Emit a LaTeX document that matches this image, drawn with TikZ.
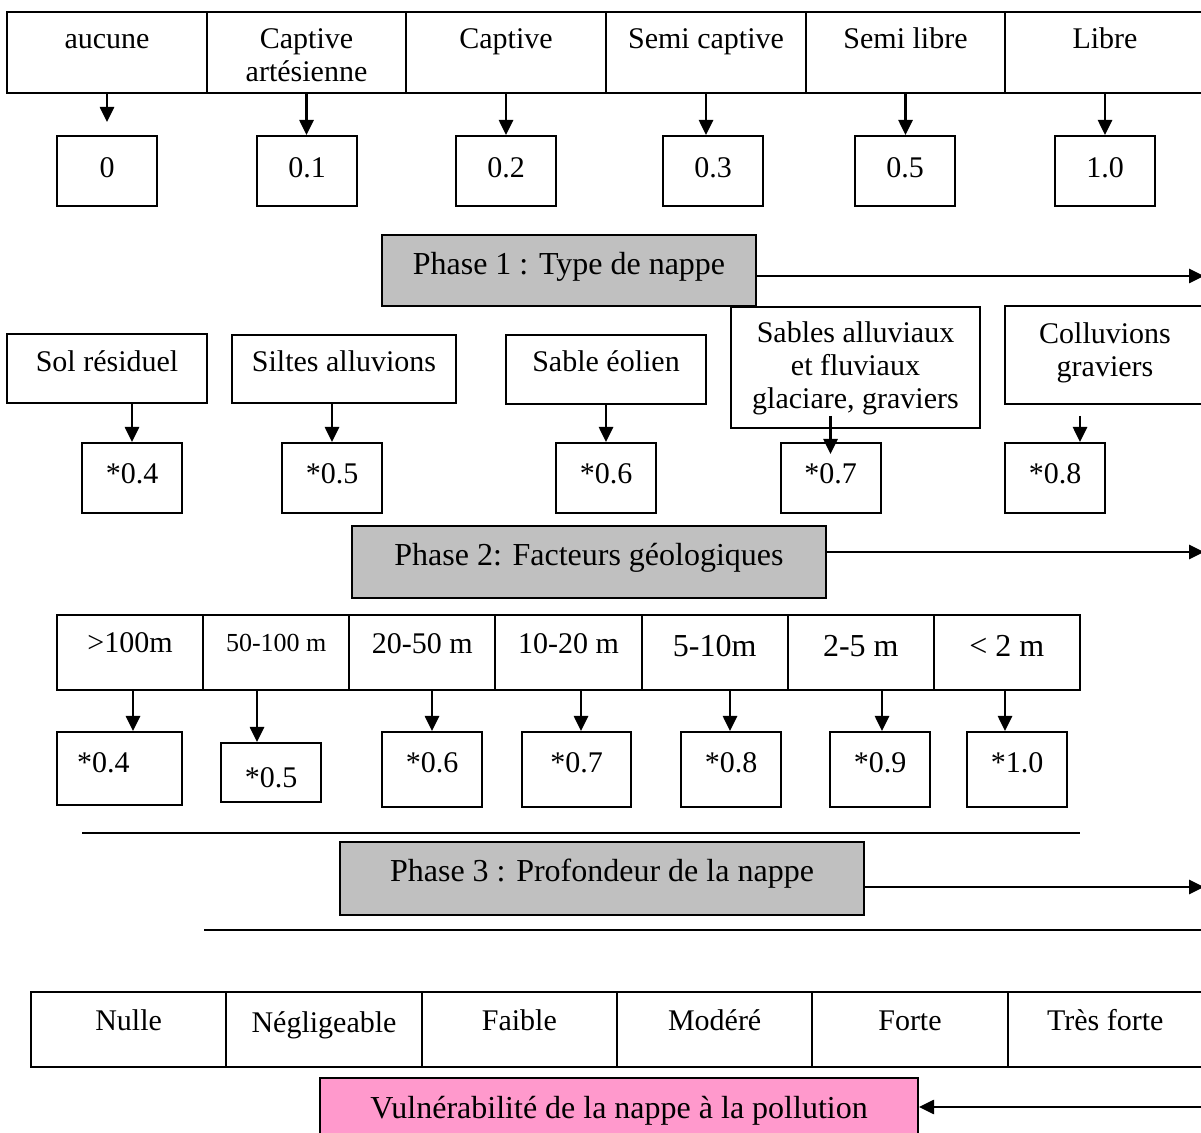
\documentclass[tikz,border=0pt]{standalone}
\usepackage{fontspec}
\setmainfont{Liberation Serif}
\usepackage{tikz}
\usetikzlibrary{arrows.meta,positioning,calc}
\definecolor{phasegray}{HTML}{C0C0C0}
\definecolor{vulnpink}{HTML}{FF99CC}
\tikzset{
  box/.style 2 args={draw, line width=1pt, inner sep=0pt, minimum width=#1, minimum height=#2},
  lift/.style={text height=10pt, text depth=#1},
  arr/.style={-{Triangle[length=7.5pt,width=7pt]}, line width=1.3pt},
  phase/.style={draw, line width=1pt, fill=phasegray, inner sep=0pt, font=\fontsize{16}{18}\selectfont}
}

\begin{document}
\begin{tikzpicture}[x=0.5pt, y=-0.5pt, font=\fontsize{15}{16.5}\selectfont]
\useasboundingbox (0,0) rectangle (1201,1133);

% Phase 1 : type de nappe
\foreach \i/\x/\lbl in {1/107/aucune, 3/506/Captive, 4/706/Semi captive, 5/905.5/Semi libre, 6/1105/Libre}
  \node[box={99.85pt}{40.5pt}, lift=13.5pt] (t\i) at (\x,52.5) {\lbl};
\node[box={99.85pt}{40.5pt}, align=center, text height=29.5pt, text depth=0pt] (t2) at (306.5,52.5) {Captive\\artésienne};
\foreach \i/\x/\val in {1/107/0, 2/307/0.1, 3/506/0.2, 4/713/0.3, 5/905/0.5, 6/1105/1.0}
  \node[box={50pt}{35pt}, lift=3pt] (n\i) at (\x,171) {\val};
\draw[arr, shorten >=6.5pt] (t1.south) -- (t1.south |- n1.north);
\foreach \i in {2,...,6} \draw[arr] (t\i.south) -- (t\i.south |- n\i.north);

\node[phase, minimum width=187pt, minimum height=35.5pt, lift=5.5pt] (p1) at (569,270.5) {Phase 1 : Type de nappe};
\coordinate (e1) at (1204,276);
\draw[arr] (p1.east |- e1) -- (e1);

% Phase 2 : geologie
\node[box={100pt}{34.5pt}, lift=6.5pt] (s1) at (107,368.5) {Sol résiduel};
\node[box={112pt}{34pt}, lift=7pt] (s2) at (344,369) {Siltes alluvions};
\node[box={100pt}{34.5pt}, lift=7.5pt] (s3) at (606,369.5) {Sable éolien};
\node[box={124.5pt}{60.5pt}, align=center, text height=41.5pt, text depth=0pt] (s4) at (855.5,367.5) {Sables alluviaux\\et fluviaux\\glaciare, graviers};
\node[box={100pt}{49pt}, align=center, text height=22pt, text depth=0pt] (s5) at (1105,355) {Colluvions\\graviers};
\foreach \i/\x/\val in {1/132/*0.4, 2/332/*0.5, 3/606/*0.6, 4/830.5/*0.7, 5/1055/*0.8}
  \node[box={50pt}{35pt}, lift=4pt] (m\i) at (\x,478) {\val};
\foreach \i in {1,2,3} \draw[arr] (m\i.north |- s\i.south) -- (m\i.north);
\draw[arr, shorten <=-6.5pt, shorten >=-6pt] (m4.north |- s4.south) -- (m4.north);
\coordinate (a5) at ($(m5.north)+(25,0)$);
\draw[arr, shorten <=5.5pt] (a5 |- s5.south) -- (a5);

\node[phase, minimum width=237pt, minimum height=36pt, lift=6pt] (p2) at (589,562) {Phase 2: Facteurs géologiques};
\coordinate (e2) at (1204,552);
\draw[arr] (p2.east |- e2) -- (e2);

% Phase 3 : profondeur
\foreach \i/\dd/\lbl in {1/9.5/>100m, 2/10.5/{\fontsize{13}{15}\selectfont 50-100 m}, 3/8.5/20-50 m, 4/8.5/10-20 m,
    5/5.5/{\fontsize{16}{18}\selectfont 5-10m}, 6/5.5/{\fontsize{16}{18}\selectfont 2-5 m}, 7/5.5/{\fontsize{16}{18}\selectfont < 2 m}}
  \node[box={73.07pt}{37.5pt}, lift=\dd pt] (d\i) at ({57+146.14*(\i-0.5)},652.5) {\lbl};
\node[box={62.5pt}{36.5pt}, lift=5.5pt, text width=42.5pt, align=left] (w1) at (119.5,768.5) {*0.4};
\node[box={50pt}{29.5pt}, text height=15.5pt, text depth=0pt] (w2) at (271,772.5) {*0.5};
\foreach \i/\x/\w/\val in {3/432/50/*0.6, 4/576.5/54.5/*0.7, 5/731/50/*0.8, 6/880/50/*0.9, 7/1017/50/*1.0}
  \node[box={\w pt}{37.5pt}, lift=6.5pt] (w\i) at (\x,769.5) {\val};
\foreach \i/\dx in {1/13.5, 2/-14, 3/0, 4/4.5, 5/-1, 6/2, 7/-12} {
  \coordinate (b\i) at ($(w\i.north)+(\dx,0)$);
  \draw[arr] (b\i |- d\i.south) -- (b\i);
}
\draw[line width=1pt] (82,833) -- (1080,833);
\node[phase, minimum width=262pt, minimum height=36.5pt, lift=6.5pt] (p3) at (602,878.5) {Phase 3 : Profondeur de la nappe};
\coordinate (e3) at (1204,887);
\draw[arr] (p3.east |- e3) -- (e3);
\draw[line width=1pt] (204,930) -- (1201,930);

% Vulnerabilite
\foreach \i/\dd/\lbl in {1/9.5/Nulle, 2/6.5/Négligeable, 3/9.5/Faible, 4/9.5/Modéré, 5/9.5/Forte, 6/9.5/Très forte}
  \node[box={97.67pt}{37.5pt}, lift=\dd pt] (q\i) at ({31+195.33*(\i-0.5)},1029.5) {\lbl};
\node[phase, fill=vulnpink, minimum width=299pt, minimum height=31pt, lift=1pt] (vp) at (619,1109) {Vulnérabilité de la nappe à la pollution};
\coordinate (e4) at (1204,1107);
\draw[arr] (e4) -- (vp.east |- e4);
\end{tikzpicture}
\end{document}
